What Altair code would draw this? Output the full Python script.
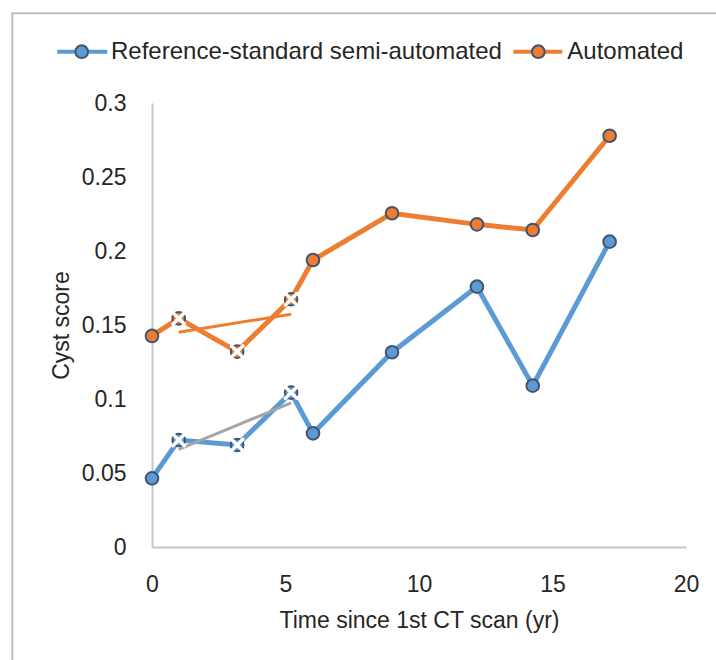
import altair as alt
import pandas as pd

# ---------------- data ----------------
series_names = ["Reference-standard semi-automated", "Automated"]
years = [0.0, 1.0, 3.19, 5.21, 6.03, 8.99, 12.17, 14.26, 17.14]
reference_scores = [0.0464, 0.0723, 0.0689, 0.1043, 0.0768, 0.1316, 0.1759, 0.1090, 0.2063]
automated_scores = [0.1426, 0.1545, 0.1320, 0.1674, 0.1939, 0.2255, 0.2180, 0.2142, 0.2779]
crossed = [False, True, True, True, False, False, False, False, False]
x_ticks = [0, 5, 10, 15, 20]
y_ticks = [0, 0.05, 0.1, 0.15, 0.2, 0.25, 0.3]

x_title = "Time since 1st CT scan (yr)"
y_title = "Cyst score"

# ---------------- style ----------------
FONT = "Liberation Sans"
TEXT = "#262626"
BLUE = "#5b9bd5"
ORANGE = "#ed7d31"
GRAY = "#a5a5a5"
EDGE = "#44546a"
AXIS_LINE = "#c6c6c6"

rows = []
for name, vals in zip(series_names, [reference_scores, automated_scores]):
    for i, (xv, yv, c) in enumerate(zip(years, vals, crossed)):
        rows.append({"series": name, "order": i, "year": xv, "score": yv, "crossed": c})
df = pd.DataFrame(rows)

X = alt.X(
    "year:Q",
    scale=alt.Scale(domain=[0, 20], nice=False, zero=False),
    axis=alt.Axis(
        values=x_ticks, title=x_title, grid=False, ticks=False, tickSize=0,
        domainColor=AXIS_LINE, domainWidth=2,
        labelFont=FONT, labelFontSize=23, labelColor=TEXT, labelPadding=26,
        labelFlush=False, labelOverlap=False,
        titleFont=FONT, titleFontSize=23, titleFontWeight="normal", titleColor=TEXT,
        titleBaseline="alphabetic", titleY=80,
    ),
)
Y = alt.Y(
    "score:Q",
    scale=alt.Scale(domain=[0, 0.3], nice=False, zero=False),
    axis=alt.Axis(
        values=y_ticks, format="~g", title=y_title, grid=False, ticks=False, tickSize=0,
        domainColor=AXIS_LINE, domainWidth=2,
        labelFont=FONT, labelFontSize=23, labelColor=TEXT, labelPadding=26,
        labelFlush=False, labelOverlap=False,
        titleFont=FONT, titleFontSize=23, titleFontWeight="normal", titleColor=TEXT,
        titleBaseline="alphabetic", titleX=-84, titleY=222, titleAngle=270,
    ),
)

series_scale = alt.Scale(domain=series_names, range=[BLUE, ORANGE])
trend_scale = alt.Scale(domain=series_names, range=[GRAY, ORANGE])

lines = alt.Chart(df).mark_line(strokeWidth=5).encode(
    x=X, y=Y,
    color=alt.Color("series:N", scale=series_scale, legend=None),
    order="order:Q",
)

trends = (
    alt.Chart(df)
    .transform_filter("datum.crossed")
    .transform_regression("year", "score", groupby=["series"])
    .mark_line(strokeWidth=3)
    .encode(
        x=X, y=Y,
        stroke=alt.Stroke("series:N", scale=trend_scale, legend=None),
    )
)

points = alt.Chart(df).mark_point(
    filled=True, size=160, stroke=EDGE, strokeWidth=2, opacity=1
).encode(
    x=X, y=Y,
    fill=alt.Fill("series:N", scale=series_scale, legend=None),
)

crosses = (
    alt.Chart(df)
    .transform_filter("datum.crossed")
    .mark_point(shape="M-1,-1L1,1M1,-1L-1,1", filled=False, size=130,
                stroke="white", strokeWidth=3.5, strokeCap="round", opacity=1)
    .encode(x=X, y=Y)
)

# ---------------- legend (built from series_names) ----------------
legend_layers = []
legend_pos = [(-94.7, -44.7, -70.3, -41.0), (361.3, 410.3, 386.3, 415.3)]
for name, col, (lx1, lx2, cx, tx) in zip(series_names, [BLUE, ORANGE], legend_pos):
    ld = pd.DataFrame({"series": [name]})
    legend_layers.append(
        alt.Chart(ld).mark_rule(strokeWidth=4, color=col).encode(
            x=alt.value(lx1), x2=alt.value(lx2), y=alt.value(-51.3)
        )
    )
    legend_layers.append(
        alt.Chart(ld).mark_point(filled=True, size=160, fill=col, stroke=EDGE,
                                 strokeWidth=2, opacity=1).encode(
            x=alt.value(cx), y=alt.value(-51.3)
        )
    )
    legend_layers.append(
        alt.Chart(ld).mark_text(align="left", baseline="alphabetic", font=FONT,
                                fontSize=24, color=TEXT).encode(
            x=alt.value(tx), y=alt.value(-44), text="series:N"
        )
    )

# ---------------- outer frame (cropped chart-area border) ----------------
frame_df = pd.DataFrame({"k": [0]})
frame_top = alt.Chart(frame_df).mark_rule(color="#c0c0c0", strokeWidth=2).encode(
    x=alt.value(-141), x2=alt.value(570), y=alt.value(-89.7)
)
frame_left = alt.Chart(frame_df).mark_rule(color="#c0c0c0", strokeWidth=2).encode(
    x=alt.value(-139.7), y=alt.value(-89.7), y2=alt.value(600)
)

chart = (
    alt.layer(lines, trends, points, crosses, *legend_layers, frame_top, frame_left)
    .properties(
        width=534, height=444,
        padding={"left": 152, "top": 103, "right": 30, "bottom": 113},
        autosize=alt.AutoSizeParams(type="none"),
        background="white",
    )
    .configure_view(stroke=None)
)

chart.save("out.html", embed_options={"renderer": "svg", "actions": False})
